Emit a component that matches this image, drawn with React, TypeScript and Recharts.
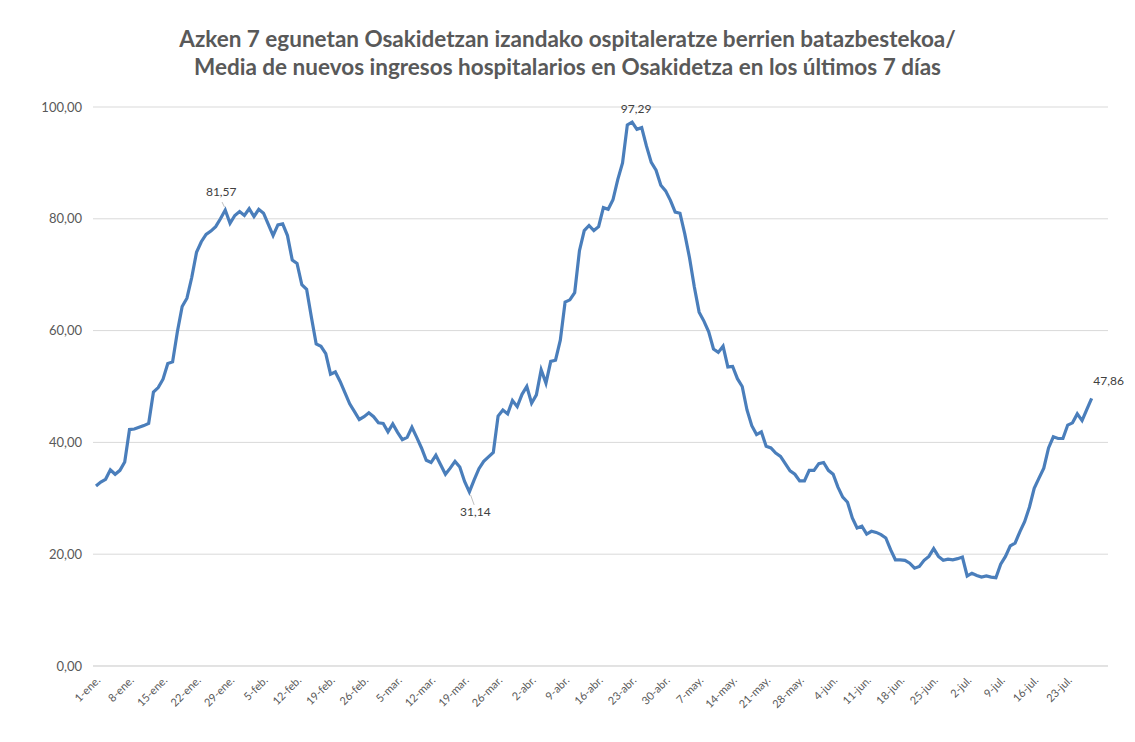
import { LineChart, Line, XAxis, YAxis, CartesianGrid } from "recharts";

const months = ["ene.", "feb.", "mar.", "abr.", "may.", "jun.", "jul."];
const monthDays = [31, 28, 31, 30, 31, 30, 31];

// 7-day average of new hospital admissions, 1-ene to 28-jul
const admissions = [
  32.2, 32.9, 33.4, 35.1, 34.3, 35.0, 36.5, 42.3, 42.4, 42.7,
  43.0, 43.4, 49.0, 49.8, 51.3, 54.1, 54.4, 59.8, 64.3, 65.8,
  69.5, 74.0, 75.9, 77.2, 77.8, 78.6, 80.0, 81.57, 79.2, 80.6,
  81.3, 80.6, 81.8, 80.4, 81.7, 81.0, 79.0, 77.0, 78.9, 79.1,
  77.0, 72.6, 72.0, 68.2, 67.4, 62.4, 57.6, 57.2, 55.9, 52.2,
  52.6, 50.9, 48.9, 46.9, 45.5, 44.1, 44.6, 45.3, 44.6, 43.5,
  43.4, 41.9, 43.3, 41.8, 40.5, 40.9, 42.7, 40.9, 39.0, 36.8,
  36.4, 37.7, 36.0, 34.3, 35.4, 36.6, 35.6, 33.0, 31.14, 33.3,
  35.3, 36.6, 37.4, 38.2, 44.7, 45.8, 45.1, 47.5, 46.4, 48.6,
  50.0, 47.0, 48.5, 53.0, 50.6, 54.5, 54.7, 58.3, 65.1, 65.5,
  66.8, 74.3, 77.9, 78.8, 77.9, 78.6, 82.0, 81.7, 83.4, 87.0,
  90.0, 96.8, 97.29, 96.0, 96.3, 93.0, 90.1, 88.7, 86.0, 85.0,
  83.3, 81.2, 81.0, 77.3, 73.0, 67.8, 63.3, 61.7, 59.8, 56.7,
  56.1, 57.2, 53.5, 53.6, 51.4, 50.0, 45.8, 43.0, 41.4, 41.9,
  39.3, 39.0, 38.1, 37.5, 36.2, 34.9, 34.3, 33.1, 33.1, 35.0,
  35.0, 36.2, 36.4, 35.0, 34.3, 32.0, 30.2, 29.3, 26.5, 24.7,
  25.0, 23.6, 24.1, 23.9, 23.5, 22.9, 20.8, 19.0, 19.0, 18.9,
  18.4, 17.5, 17.8, 18.9, 19.6, 21.0, 19.6, 18.9, 19.1, 19.0,
  19.2, 19.5, 16.1, 16.6, 16.2, 15.9, 16.1, 15.9, 15.8, 18.2,
  19.6, 21.5, 22.0, 24.0, 25.8, 28.4, 31.8, 33.6, 35.4, 39.0,
  41.0, 40.7, 40.7, 43.1, 43.5, 45.1, 43.9, 45.9, 47.86,
];

const tickLabels = [
  "1-ene.", "8-ene.", "15-ene.", "22-ene.", "29-ene.", "5-feb.", "12-feb.",
  "19-feb.", "26-feb.", "5-mar.", "12-mar.", "19-mar.", "26-mar.", "2-abr.",
  "9-abr.", "16-abr.", "23-abr.", "30-abr.", "7-may.", "14-may.", "21-may.",
  "28-may.", "4-jun.", "11-jun.", "18-jun.", "25-jun.", "2-jul.", "9-jul.",
  "16-jul.", "23-jul.",
];

const yTicks = [0, 20, 40, 60, 80, 100];
const labeledDays = [27, 78, 112, 208];

const days: string[] = [];
months.forEach((m, mi) => {
  for (let d = 1; d <= monthDays[mi]; d++) days.push(`${d}-${m}`);
});

const data = days.map((day, i) => ({
  day,
  value: i < admissions.length ? admissions[i] : null,
}));

const fmt = (v: number) => v.toFixed(2).replace(".", ",");
const font = "Lato, 'Open Sans', sans-serif";

const AngledTick = (props: any) => {
  const { x, y, payload } = props;
  return (
    <g transform={`translate(${x + 5},${y + 7})`}>
      <text
        x={0}
        y={0}
        textAnchor="end"
        fill="#595959"
        fontSize={11}
        fontFamily={font}
        transform="rotate(-45)"
      >
        {payload.value}
      </text>
    </g>
  );
};

const labelPos: Record<number, { dx: number; dy: number; lead: boolean }> = {
  27: { dx: -4, dy: -14, lead: true },
  78: { dx: 6, dy: 24, lead: true },
  112: { dx: 4, dy: -9, lead: false },
  208: { dx: 17, dy: -13, lead: false },
};

const DataLabel = (props: any) => {
  const { x, y, value, index } = props;
  if (!labeledDays.includes(index) || value == null) return null;
  const p = labelPos[index];
  return (
    <g>
      {p.lead && (
        <line
          x1={x + p.dx * 0.2}
          y1={y + (p.dy > 0 ? 3 : -3)}
          x2={x + p.dx * 0.8}
          y2={y + (p.dy > 0 ? p.dy - 11 : p.dy + 6)}
          stroke="#bfbfbf"
          strokeWidth={1}
        />
      )}
      <text
        x={x + p.dx}
        y={y + p.dy}
        textAnchor="middle"
        fill="#404040"
        fontSize={12}
        fontFamily={font}
      >
        {fmt(value)}
      </text>
    </g>
  );
};

export default function App() {
  return (
    <div style={{ position: "relative", width: 1119, height: 726 }}>
      <div
        style={{
          position: "absolute",
          top: 17,
          left: 0,
          width: 1119,
          textAlign: "center",
          fontFamily: font,
          fontWeight: 700,
          fontSize: 22.5,
          lineHeight: "28px",
          color: "#595959",
        }}
      >
        Azken 7 egunetan Osakidetzan izandako ospitaleratze berrien batazbestekoa/
        <br />
        Media de nuevos ingresos hospitalarios en Osakidetza en los últimos 7 días
      </div>
      <LineChart
        width={1119}
        height={726}
        data={data}
        margin={{ top: 99, right: 19, bottom: 0, left: 0 }}
      >
        <CartesianGrid vertical={false} stroke="#d9d9d9" />
        <XAxis
          dataKey="day"
          ticks={tickLabels}
          interval={0}
          tick={<AngledTick />}
          tickLine={false}
          axisLine={{ stroke: "#d9d9d9" }}
          padding={{ left: 3, right: 2 }}
          height={68}
        />
        <YAxis
          domain={[0, 100]}
          ticks={yTicks}
          width={85}
          tickLine={false}
          axisLine={false}
          tickSize={0}
          tickMargin={11}
          tickFormatter={fmt}
          tick={{ fill: "#595959", fontSize: 13, fontFamily: font }}
        />
        <Line
          type="linear"
          dataKey="value"
          stroke="#4a7ebb"
          strokeWidth={3.2}
          dot={false}
          label={<DataLabel />}
          isAnimationActive={false}
        />
      </LineChart>
    </div>
  );
}
